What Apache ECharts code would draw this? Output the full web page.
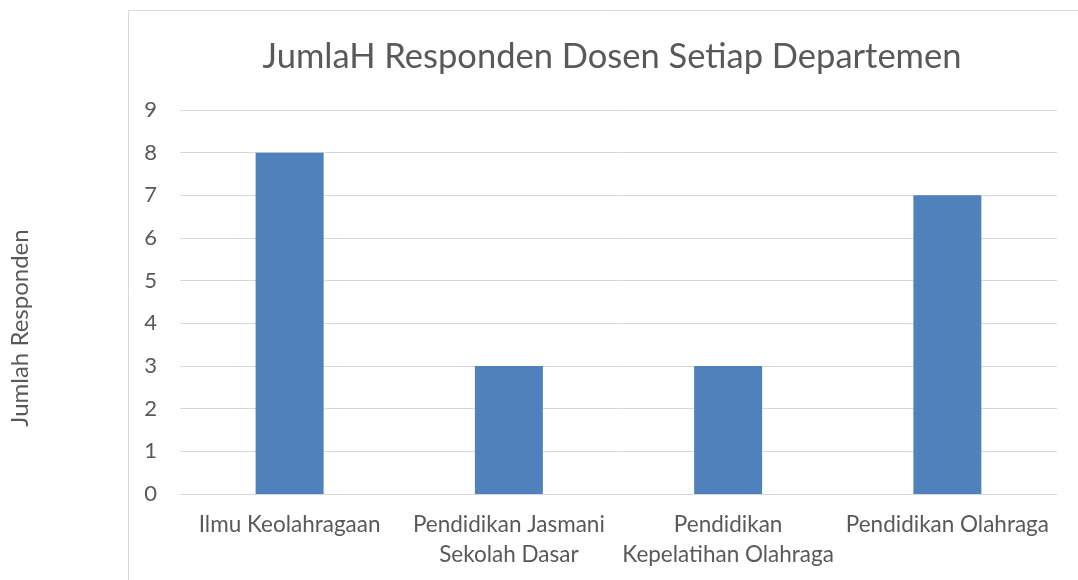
<!DOCTYPE html>
<html>
<head>
<meta charset="utf-8">
<script src="https://cdn.jsdelivr.net/npm/echarts@6/dist/echarts.min.js"></script>
<style>
  html, body { margin: 0; padding: 0; background: #fff; }
  #chart { width: 1078px; height: 580px; }
</style>
</head>
<body>
<div id="chart"></div>
<script>
// data
var departemen = ['Ilmu Keolahragaan', 'Pendidikan Jasmani\nSekolah Dasar', 'Pendidikan\nKepelatihan Olahraga', 'Pendidikan Olahraga'];
var jumlah = [8, 3, 3, 7];

var fontName = 'Lato';
var myChart = echarts.init(document.getElementById('chart'));

var option = {
    backgroundColor: '#fff',
    animation: false,
    title: {
        text: 'JumlaH Responden Dosen Setiap Departemen',
        left: 607,
        top: 34,
        textAlign: 'center',
        textStyle: {
            color: '#595959',
            fontFamily: fontName,
            fontWeight: 'normal',
            fontSize: 34.5
        }
    },
    graphic: [
        {
            // chart area border
            type: 'rect',
            shape: { x: 128.5, y: 10.5, width: 960, height: 600 },
            style: { fill: 'none', stroke: '#D9D9D9', lineWidth: 1 },
            silent: true
        },
        {
            type: 'text',
            x: 20,
            y: 328,
            rotation: Math.PI / 2,
            style: {
                text: 'Jumlah Responden',
                fill: '#595959',
                font: '24px ' + fontName,
                align: 'center',
                verticalAlign: 'middle'
            }
        }
    ],
    grid: {
        left: 180,
        right: 21,
        top: 110,
        bottom: 86
    },
    xAxis: {
        type: 'category',
        data: departemen,
        axisLine: { show: true, lineStyle: { color: '#D9D9D9' } },
        axisTick: { show: false },
        axisLabel: {
            color: '#595959',
            fontFamily: fontName,
            fontSize: 22.5,
            lineHeight: 30,
            margin: 16,
            interval: 0
        }
    },
    yAxis: {
        type: 'value',
        min: 0,
        max: 9,
        interval: 1,
        axisLine: { show: false },
        axisTick: { show: false },
        splitLine: { lineStyle: { color: '#D9D9D9', width: 1 } },
        axisLabel: {
            color: '#595959',
            fontFamily: fontName,
            fontSize: 22,
            margin: 23
        }
    },
    series: [
        {
            type: 'bar',
            data: jumlah,
            barWidth: 68,
            itemStyle: { color: '#4F81BD' }
        }
    ]
};
myChart.setOption(option);
</script>
</body>
</html>
